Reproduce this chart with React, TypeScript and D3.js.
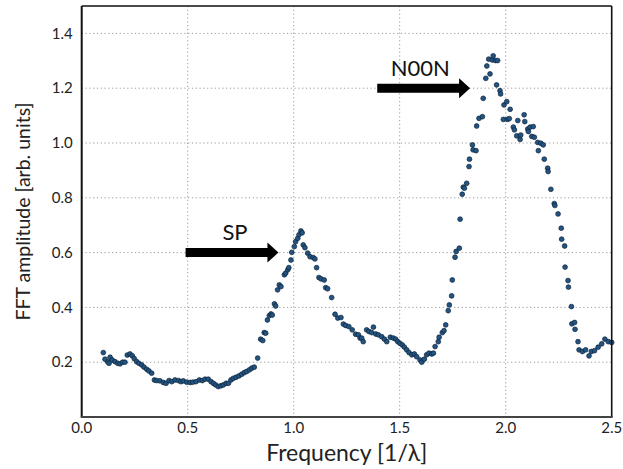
import React from "react";
import * as d3 from "d3";

const freq = [
  0.102, 0.110, 0.123, 0.129, 0.134, 0.144, 0.157, 0.170, 0.181, 0.193, 0.204, 0.215, 0.228, 0.239, 0.248, 0.259,
  0.270, 0.283, 0.294, 0.307, 0.317, 0.330, 0.343, 0.354, 0.369, 0.385, 0.398, 0.412, 0.425, 0.440, 0.456, 0.468,
  0.479, 0.495, 0.511, 0.524, 0.539, 0.555, 0.569, 0.582, 0.597, 0.610, 0.621, 0.632, 0.644, 0.657, 0.668, 0.681,
  0.692, 0.704, 0.715, 0.728, 0.742, 0.755, 0.767, 0.778, 0.791, 0.802, 0.814, 0.830, 0.844, 0.854, 0.861,
  0.868, 0.876, 0.885, 0.893, 0.899, 0.909, 0.915, 0.924, 0.932, 0.940, 0.956, 0.962, 0.972, 0.977, 0.987, 0.991,
  1.003, 1.009, 1.019, 1.025, 1.034, 1.040, 1.045, 1.053, 1.066, 1.077, 1.092, 1.100, 1.108, 1.119, 1.129, 1.144,
  1.151, 1.160, 1.179, 1.195, 1.208, 1.223, 1.234, 1.245, 1.260, 1.276, 1.292, 1.305, 1.313, 1.321, 1.328,
  1.344, 1.355, 1.368, 1.376, 1.387, 1.399, 1.415, 1.428, 1.439, 1.456, 1.470, 1.481, 1.491, 1.501, 1.512, 1.522,
  1.533, 1.544, 1.557, 1.569, 1.580, 1.596, 1.604, 1.616, 1.627, 1.638, 1.651, 1.659, 1.667, 1.682, 1.686, 1.701,
  1.709, 1.717, 1.729, 1.734, 1.745, 1.748, 1.761, 1.766, 1.781, 1.785, 1.795, 1.800, 1.805, 1.816, 1.827, 1.829,
  1.843, 1.846, 1.860, 1.863, 1.874, 1.890, 1.894, 1.906, 1.911, 1.920, 1.926, 1.937, 1.941, 1.952, 1.957, 1.962,
  1.973, 1.976, 1.989, 1.992, 2.005, 2.008, 2.017, 2.021, 2.036, 2.041, 2.052, 2.057, 2.068, 2.071, 2.087, 2.090,
  2.104, 2.107, 2.115, 2.123, 2.130, 2.135, 2.151, 2.154, 2.166, 2.177, 2.182, 2.198, 2.200, 2.213, 2.229, 2.232,
  2.247, 2.262, 2.264, 2.278, 2.280, 2.294, 2.296, 2.310, 2.312, 2.325, 2.327, 2.341, 2.346, 2.362, 2.377, 2.393,
  2.404, 2.419, 2.436, 2.453, 2.468, 2.484, 2.500,
];

const amp = [
  0.235, 0.211, 0.201, 0.196, 0.218, 0.208, 0.202, 0.196, 0.194, 0.200, 0.200, 0.226, 0.230, 0.223, 0.213, 0.202,
  0.196, 0.190, 0.182, 0.174, 0.168, 0.160, 0.135, 0.133, 0.132, 0.126, 0.123, 0.133, 0.129, 0.135, 0.133, 0.129,
  0.132, 0.127, 0.126, 0.127, 0.129, 0.135, 0.133, 0.138, 0.138, 0.129, 0.123, 0.117, 0.111, 0.114, 0.117, 0.123,
  0.123, 0.135, 0.141, 0.145, 0.150, 0.156, 0.162, 0.166, 0.172, 0.178, 0.182, 0.215, 0.284, 0.279, 0.308,
  0.306, 0.354, 0.370, 0.376, 0.372, 0.413, 0.405, 0.464, 0.482, 0.476, 0.519, 0.525, 0.537, 0.545, 0.573, 0.601,
  0.622, 0.640, 0.652, 0.665, 0.679, 0.672, 0.628, 0.618, 0.598, 0.585, 0.582, 0.577, 0.545, 0.509, 0.504, 0.500,
  0.472, 0.468, 0.436, 0.375, 0.361, 0.363, 0.339, 0.334, 0.330, 0.318, 0.302, 0.300, 0.288, 0.288, 0.275,
  0.318, 0.312, 0.308, 0.328, 0.303, 0.300, 0.293, 0.284, 0.275, 0.291, 0.288, 0.284, 0.275, 0.269, 0.263, 0.255,
  0.245, 0.235, 0.227, 0.230, 0.220, 0.208, 0.200, 0.211, 0.227, 0.233, 0.230, 0.233, 0.257, 0.275, 0.291, 0.308,
  0.315, 0.336, 0.388, 0.409, 0.442, 0.500, 0.583, 0.604, 0.616, 0.722, 0.813, 0.839, 0.835, 0.853, 0.914, 0.941,
  0.993, 0.975, 0.972, 1.062, 1.090, 1.096, 1.163, 1.236, 1.281, 1.306, 1.252, 1.303, 1.318, 1.301, 1.212, 1.301,
  1.191, 1.179, 1.086, 1.139, 1.151, 1.086, 1.089, 1.123, 1.058, 1.048, 1.026, 1.082, 1.013, 1.029, 1.103, 1.078,
  1.051, 1.042, 1.058, 1.024, 1.060, 1.021, 1.002, 0.972, 0.999, 0.993, 0.941, 0.908, 0.896, 0.831, 0.779, 0.772,
  0.741, 0.689, 0.649, 0.624, 0.547, 0.498, 0.474, 0.403, 0.340, 0.345, 0.320, 0.275, 0.245, 0.239, 0.245, 0.223,
  0.239, 0.242, 0.255, 0.267, 0.284, 0.275, 0.272,
];

const xTicks = [0.0, 0.5, 1.0, 1.5, 2.0, 2.5];
const yTicks = [0.2, 0.4, 0.6, 0.8, 1.0, 1.2, 1.4];

const annLabels = ["SP", "N00N"];
const annArrowStart = [0.49, 1.394];
const annArrowEnd = [0.928, 1.832];
const annArrowY = [0.6, 1.2];
const annLabelX = [0.723, 1.597];
const annLabelY = [0.646, 1.245];

const W = 623;
const H = 469;
const M = { left: 81.7, right: 611.7, top: 6, bottom: 417 };
const FONT = "Lato, 'Open Sans', sans-serif";

export default function App() {
  const x = d3.scaleLinear().domain([0, 2.5]).range([M.left, M.right]);
  const y = d3.scaleLinear().domain([0, 1.5]).range([M.bottom, M.top]);

  const arrowPath = (x0: number, x1: number, yy: number) => {
    const sx = x(x0);
    const tx = x(x1);
    const cy = y(yy);
    const hb = tx - 11;
    const sh = 4.5;
    const hh = 10;
    return `M${sx},${cy - sh}L${hb},${cy - sh}L${hb},${cy - hh}L${tx},${cy}L${hb},${cy + hh}L${hb},${cy + sh}L${sx},${cy + sh}Z`;
  };

  return (
    <svg width={W} height={H} style={{ position: "absolute", left: 0, top: 0, background: "#fff" }}>
      <rect x={0} y={0} width={W} height={H} fill="#fff" />
      <g stroke="#9a9a9a" strokeWidth={1} strokeDasharray="1.2,2.6">
        {xTicks.slice(1, -1).map((t) => (
          <line key={"gx" + t} x1={x(t)} x2={x(t)} y1={M.top} y2={M.bottom} />
        ))}
        {yTicks.map((t) => (
          <line key={"gy" + t} x1={M.left} x2={M.right} y1={y(t)} y2={y(t)} />
        ))}
      </g>
      <g>
        {freq.map((f, i) => (
          <circle key={i} cx={x(f)} cy={y(amp[i])} r={2.4} fill="#235482" stroke="#0b2239" strokeWidth={0.7} />
        ))}
      </g>
      {annLabels.map((lab, i) => (
        <g key={lab}>
          <path d={arrowPath(annArrowStart[i], annArrowEnd[i], annArrowY[i])} fill="#000" />
          <text x={x(annLabelX[i])} y={y(annLabelY[i])} textAnchor="middle" fontFamily={FONT} fontSize={22} fill="#111">
            {lab}
          </text>
        </g>
      ))}
      <line x1={M.left} x2={M.right} y1={M.top} y2={M.top} stroke="#111" strokeWidth={1.6} />
      <line x1={M.right} x2={M.right} y1={M.top} y2={M.bottom} stroke="#111" strokeWidth={1.6} />
      <line x1={M.left} x2={M.left} y1={M.top} y2={M.bottom} stroke="#111" strokeWidth={2} />
      <line x1={M.left - 1} x2={M.right + 1} y1={M.bottom} y2={M.bottom} stroke="#444" strokeWidth={2} />
      <g fontFamily={FONT} fontSize={15} fill="#222">
        {xTicks.map((t) => (
          <text key={"tx" + t} x={x(t)} y={M.bottom + 16} textAnchor="middle">
            {t.toFixed(1)}
          </text>
        ))}
        {yTicks.map((t) => (
          <text key={"ty" + t} x={M.left - 9} y={y(t)} dy="0.35em" textAnchor="end">
            {t.toFixed(1)}
          </text>
        ))}
      </g>
      <text x={(M.left + M.right) / 2} y={461} textAnchor="middle" fontFamily={FONT} fontSize={23} fill="#222">
        Frequency [1/λ]
      </text>
      <text
        transform={`translate(23,${(M.top + M.bottom) / 2}) rotate(-90)`}
        textAnchor="middle"
        dy="0.35em"
        fontFamily={FONT}
        fontSize={19.5}
        fill="#222"
      >
        FFT amplitude [arb. units]
      </text>
    </svg>
  );
}
